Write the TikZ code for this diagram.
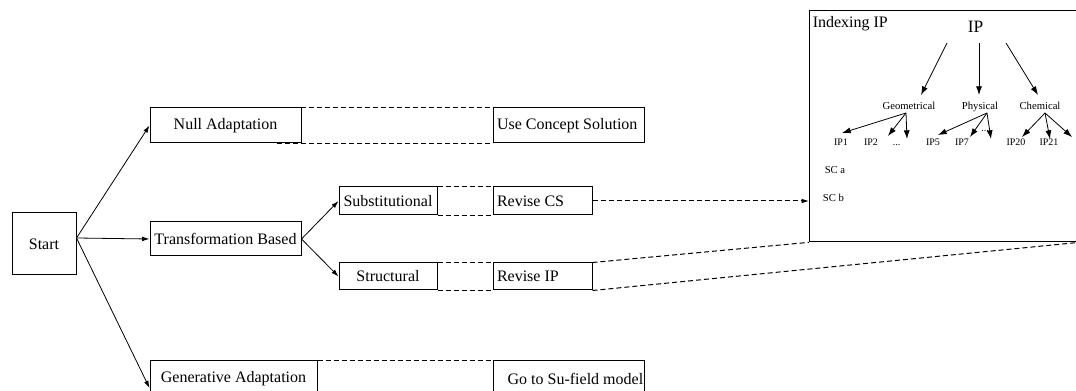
\documentclass[tikz,border=0pt]{standalone}
\usepackage{fontspec}
\setmainfont{Liberation Serif}
\usetikzlibrary{arrows.meta,calc}
\begin{document}
\begin{tikzpicture}[x=0.75pt,y=-0.75pt,
  box/.style={draw, line width=0.75pt, inner sep=0pt, font=\fontsize{12}{14}\selectfont, align=center},
  lbox/.style={draw, line width=0.75pt, inner ysep=0pt, inner xsep=#1, font=\fontsize{12}{14}\selectfont},
  dline/.style={dash pattern=on 3.75pt off 2.25pt, line width=0.75pt},
  arr/.style={-{Latex[length=5.5pt,width=3.5pt]}, line width=0.6pt},
  tarr/.style={-{Latex[length=6.5pt,width=4.5pt]}, line width=0.6pt},
  small/.style={font=\fontsize{8}{9}\selectfont, inner sep=0pt},
  tiny/.style={font=\fontsize{7.5}{9}\selectfont, inner sep=0pt, anchor=base},
]
\useasboundingbox (0,0) rectangle (1076,391);
\clip (0,0) rectangle (1076,391);

% main boxes
\node[box, minimum width=48pt, minimum height=46.5pt] (start) at (44,244) {Start};
\node[box, minimum width=113.25pt, minimum height=26.25pt] (null) at (225.5,125.5) {Null Adaptation};
\node[lbox=3pt, minimum height=26.25pt] (usecs) at (568.5,125.5) {\makebox[107.25pt][l]{Use Concept Solution}};
\node[box, minimum width=113.25pt, minimum height=25.5pt] (trans) at (225.5,239) {Transformation Based};
\node[box, minimum width=73.5pt, minimum height=21pt] (subst) at (388,201) {Substitutional};
\node[lbox=3pt, minimum height=21pt] (revcs) at (542.5,201) {\makebox[68.25pt][l]{Revise CS}};
\node[box, minimum width=73.5pt, minimum height=20.25pt] (struct) at (388,276.5) {Structural};
\node[lbox=3pt, minimum height=20.25pt] (revip) at (542.5,276.5) {\makebox[68.25pt][l]{Revise IP}};
\node[box, minimum width=125.25pt, minimum height=26.25pt] (gen) at (233.5,378.5) {Generative Adaptation};
\node[lbox=11pt, minimum height=26.25pt] (gosu) at (568.5,378.5) {\makebox[91.25pt][l]{Go to Su-field model}};

% indexing box
\node[draw, line width=1pt, inner sep=0pt, minimum width=201.75pt, minimum height=173.25pt, anchor=north west] (idx) at (809,10) {};

% dashed links between boxes
\draw[dline] ($(null.north east)+(-25,0)$) -- ($(usecs.north west)+(20,0)$);
\draw[dline] ($(null.south east)+(-25,0)$) -- (usecs.south west);
\draw[dline] (subst.north east) -- (revcs.north west);
\draw[dline] (subst.south east) -- (revcs.south west);
\draw[dline] (struct.north east) -- (revip.north west);
\draw[dline] (struct.south east) -- (revip.south west);
\draw[dline] (gen.north east) -- ($(gosu.north west)+(60,0)$);

% arrows
\coordinate (so) at ($(start.east)+(0,-6)$);
\draw[arr] (so) -- (null.west);
\draw[arr] (so) -- (trans.west);
\draw[arr] (so) -- ($(gen.west)+(0,9.5)$);
\draw[arr] (trans.east) -- (subst.west);
\draw[arr] (trans.east) -- (struct.west);
\draw[dline, -{Latex[length=5.5pt,width=3.5pt]}] (revcs.east) -- (revcs.east -| idx.west);
\draw[dline] (revip.north east) -- (idx.south west);
\draw[dline] (revip.south east) -- (idx.south east);

% indexing content
\node[font=\fontsize{12}{14}\selectfont, anchor=base west, inner sep=0pt] (idxlbl) at (812.5,28) {Indexing IP};
\node[font=\fontsize{13}{15}\selectfont, anchor=base, inner sep=0pt] (ip) at (975.5,33) {IP};
\node[small, anchor=base] (geo) at (909,110) {Geometrical};
\node[small, anchor=base] (phys) at (980,110) {Physical};
\node[small, anchor=base] (chem) at (1040,110) {Chemical};

\node[tiny] (ip1) at (841,146) {IP1};
\node[tiny] (ip2) at (871,146) {IP2};
\node[tiny] (gdots) at (896.5,146) {...};
\node[tiny] (ip5) at (933,146) {IP5};
\node[tiny] (ip7) at (962,146) {IP7};
\node[tiny] (pdots) at (985,132) {...};
\node[tiny] (ip20) at (1016,146) {IP20};
\node[tiny] (ip21) at (1049,146) {IP21};
\node[small, anchor=base] (sca) at (835,174) {SC a};
\node[small, anchor=base] (scb) at (833.5,201.5) {SC b};

\coordinate (ipl) at (947,43);
\coordinate (ipm) at (979,43);
\coordinate (ipr) at (1006,43);
\coordinate (geot) at (921,95);
\coordinate (physt) at (979,95);
\coordinate (chemt) at (1038,95);
\draw[tarr] (ipl) -- (geot);
\draw[tarr] (ipm) -- (physt);
\draw[tarr] (ipr) -- (chemt);

\coordinate (g0) at (906,113);
\coordinate (p0) at (987,113);
\coordinate (c0) at (1045,113);
\coordinate (g1) at (842,133);
\coordinate (g2) at (888,136);
\coordinate (g3) at (907,139);
\coordinate (p1) at (938,135);
\coordinate (p2) at (970,137);
\coordinate (p3) at (991,139);
\coordinate (c1) at (1022,137);
\coordinate (c2) at (1050,139);
\coordinate (c3) at (1072,137);
\foreach \e in {g1,g2,g3} \draw[tarr] (g0) -- (\e);
\foreach \e in {p1,p2,p3} \draw[tarr] (p0) -- (\e);
\foreach \e in {c1,c2,c3} \draw[tarr] (c0) -- (\e);
\end{tikzpicture}
\end{document}
